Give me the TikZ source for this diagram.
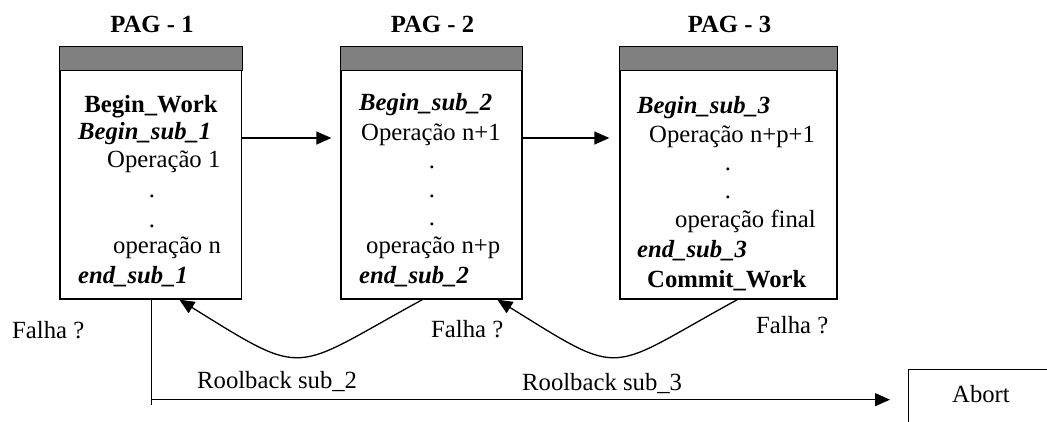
\documentclass[tikz,border=0pt]{standalone}
\usepackage{fontspec}
\setmainfont{Liberation Serif}
\usetikzlibrary{arrows.meta,calc}
\definecolor{bandgray}{HTML}{808080}
\begin{document}
\begin{tikzpicture}[x=1pt,y=-1pt,
  page/.style={draw, line width=1.3pt, minimum height=252pt, inner sep=0pt},
  band/.style={draw, line width=1.3pt, fill=bandgray},
  txt/.style={anchor=base west, inner sep=0pt, font=\fontsize{24.7}{29}\selectfont},
  mid/.style={txt, anchor=base},
  arr/.style={line width=1.3pt, -{Triangle[length=15pt,width=13pt]}},
  plain/.style={line width=1.3pt}]
\clip (0,0) rectangle (1047,421);

% pages
\node[page, minimum width=181.5pt] (b1) at (150.75,173) {};
\node[page, minimum width=181pt]   (b2) at (431.5,173) {};
\node[page, minimum width=217pt]   (b3) at (728.5,173) {};
\foreach \b in {b1,b2,b3}
  \draw[band] (\b.north west) rectangle ($(\b.north east)+(0,24)$);

% abort box (runs off the edge)
\node[draw, line width=1.3pt, minimum width=160pt, minimum height=80pt, inner sep=0pt, anchor=north west] (abort) at (908,369) {};
\node[txt] (abortlbl) at (952,402) {Abort};

% titles
\node[mid] (t1) at (152,32)   {\bfseries PAG - 1};
\node[mid] (t2) at (432.5,32) {\bfseries PAG - 2};
\node[mid] (t3) at (729.5,32) {\bfseries PAG - 3};

% page 1 contents
\node[mid] (p1a) at (151,112) {\bfseries Begin\_Work};
\node[txt] (p1b) at (78,139)  {\bfseries\itshape Begin\_sub\_1};
\node[txt] (p1c) at (107,167) {Operação 1};
\node[mid] (p1d) at (152,197) {.};
\node[mid] (p1e) at (152,227) {.};
\node[txt] (p1f) at (113,253) {operação n};
\node[txt] (p1g) at (78,283)  {\bfseries\itshape end\_sub\_1};

% page 2 contents
\node[txt] (p2a) at (359,110) {\bfseries\itshape Begin\_sub\_2};
\node[txt] (p2b) at (361,140) {Operação n+1};
\node[mid] (p2c) at (432,168) {.};
\node[mid] (p2d) at (432,197) {.};
\node[mid] (p2e) at (432,225) {.};
\node[txt] (p2f) at (366,253) {operação n+p};
\node[txt] (p2g) at (359,283) {\bfseries\itshape end\_sub\_2};

% page 3 contents
\node[txt] (p3a) at (637,113) {\bfseries\itshape Begin\_sub\_3};
\node[txt] (p3b) at (649,142) {Operação n+p+1};
\node[mid] (p3c) at (728,170) {.};
\node[mid] (p3d) at (728,198) {.};
\node[txt] (p3e) at (675,227) {operação final};
\node[txt] (p3f) at (637,257) {\bfseries\itshape end\_sub\_3};
\node[txt] (p3g) at (647,287) {\bfseries Commit\_Work};

% failure labels
\node[txt] (f1) at (12,338)  {Falha ?};
\node[txt] (f2) at (431,337) {Falha ?};
\node[txt] (f3) at (756,333) {Falha ?};
\node[txt] (r2) at (197,388) {Roolback sub\_2};
\node[txt] (r3) at (522,390) {Roolback sub\_3};

% forward arrows between pages
\coordinate (fw) at (0,138);
\draw[arr, shorten >=9pt] (b1.east |- fw) -- (b2.west |- fw);
\draw[arr, shorten >=10pt] (b2.east |- fw) -- (b3.west |- fw);

% rollback curves
\coordinate (c2s) at ($(b2.south west)+(82,0)$);
\coordinate (c1e) at ($(b1.south west)+(120,0)$);
\coordinate (c3s) at ($(b3.south west)+(118,0)$);
\coordinate (c2e) at ($(b2.south west)+(157,0)$);
\draw[arr] (c2s) .. controls +(-132,72) and +(129,80) .. (c1e);
\draw[arr] (c3s) .. controls +(-132,72) and +(129,80) .. (c2e);

% abort path
\coordinate (down) at ($(b1.south)+(1,105)$);
\coordinate (turn) at ($(b1.south)+(1,100)$);
\draw[plain] ($(b1.south)+(1,0)$) -- (down);
\draw[arr, shorten >=18pt] (turn) -- (abort.west |- turn);
\end{tikzpicture}
\end{document}
